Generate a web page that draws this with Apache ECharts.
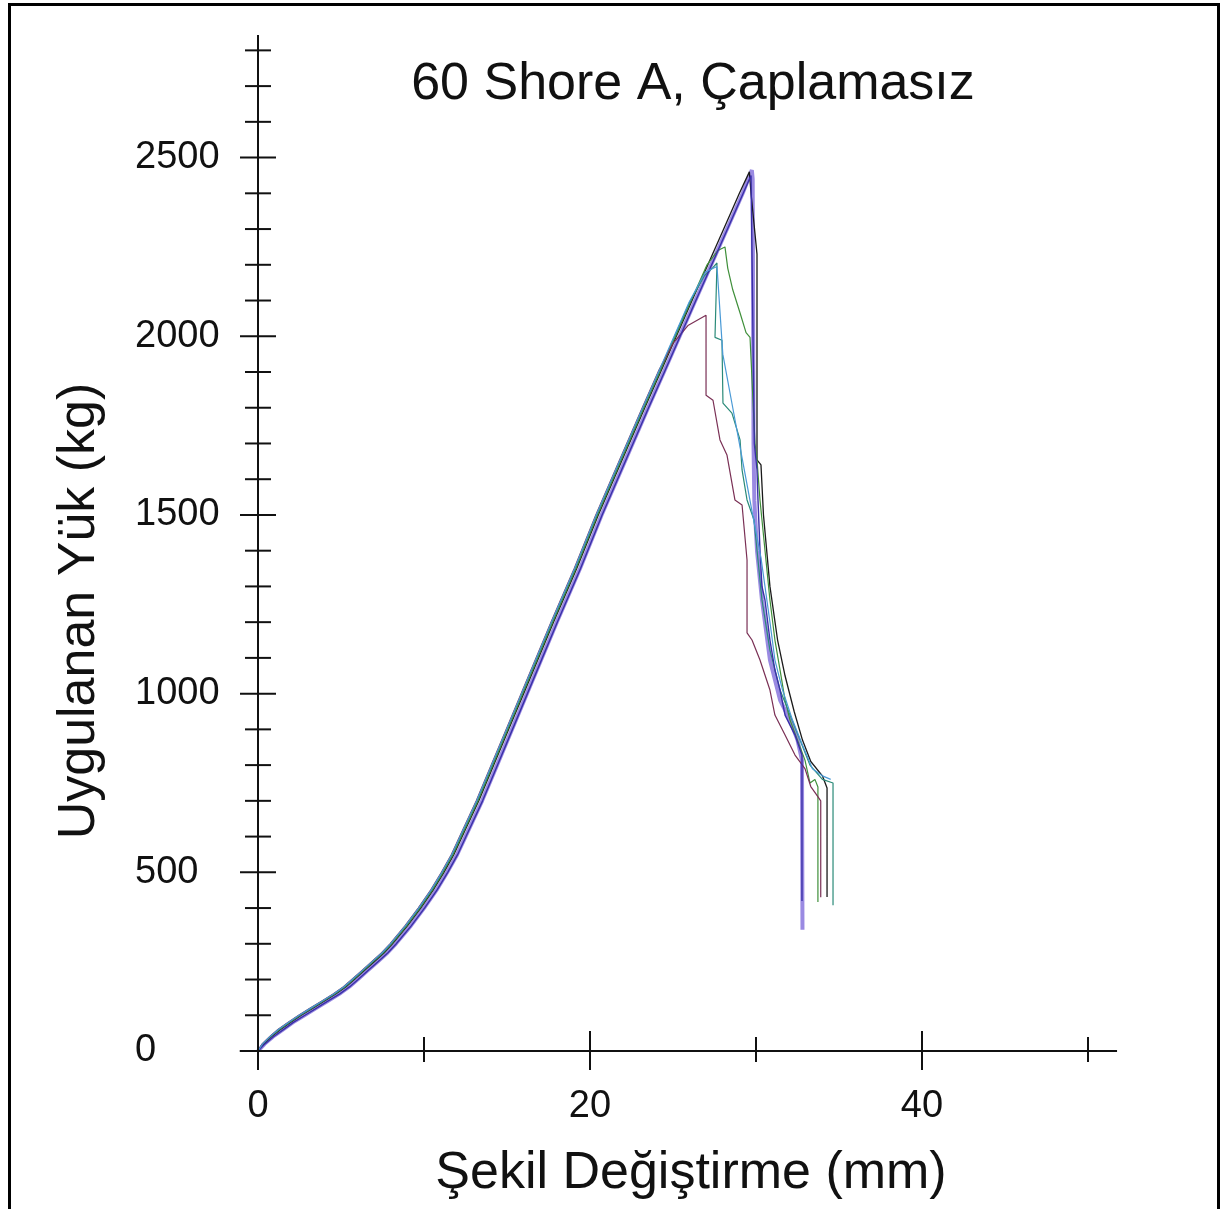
<!DOCTYPE html>
<html>
<head>
<meta charset="utf-8">
<script src="https://cdn.jsdelivr.net/npm/echarts@6/dist/echarts.min.js"></script>
<style>
  html, body { margin: 0; padding: 0; background: #fff; }
  #chart { width: 1231px; height: 1209px; }
</style>
</head>
<body>
<div id="chart"></div>
<script>
// Load–deformation curves, 60 Shore A, uncoated samples: [deformation mm, load kg]
const sample1 = [[0,0],[0.4,20],[0.9,40],[1.5,60],[2.1,80],[2.8,100],[3.5,120],[4.2,140],[4.9,160],[5.5,180],[6.0,200],[6.6,225],[7.2,250],[7.8,275],[8.3,300],[9.2,350],[10.0,400],[10.75,450],[11.4,500],[12.0,550],[12.5,600],[13.5,700],[14.4,800],[15.3,900],[16.2,1000],[17.1,1100],[18.0,1200],[19.4,1350],[20.7,1500],[22.1,1650],[23.5,1800],[24.5,1905],[25.4,2000],[26.3,2095],[27.3,2200],[28.3,2305],[29.2,2400],[29.75,2465],[29.8,2440],[29.85,1700],[29.9,1540],[30.06,1400],[30.36,1262],[30.84,1094],[31.45,982],[32.05,926],[32.5,870],[32.77,814],[32.8,339]];
const sample2 = [[0,0],[0.35,20],[0.8,40],[1.35,60],[1.95,80],[2.6,100],[3.3,120],[4.0,140],[4.7,160],[5.3,180],[5.8,200],[6.4,225],[7.0,250],[7.6,275],[8.1,300],[9.0,350],[9.8,400],[10.55,450],[11.2,500],[11.8,550],[12.3,600],[13.3,700],[14.2,800],[15.1,900],[16.0,1000],[16.9,1100],[17.8,1200],[19.2,1350],[20.5,1500],[21.9,1650],[23.3,1800],[24.3,1905],[25.2,2000],[26.1,2095],[27.1,2200],[28.1,2305],[29.0,2400],[29.6,2460],[29.7,2400],[30.06,2230],[30.06,1654],[30.3,1640],[30.45,1500],[30.84,1300],[31.3,1150],[31.75,1050],[32.3,950],[32.8,870],[33.3,810],[34.0,770],[34.28,736],[34.28,431]];
const sample3 = [[0,0],[0.3,20],[0.75,40],[1.3,60],[1.9,80],[2.55,100],[3.25,120],[3.95,140],[4.65,160],[5.25,180],[5.75,200],[6.35,225],[6.95,250],[7.55,275],[8.05,300],[8.95,350],[9.75,400],[10.5,450],[11.15,500],[11.75,550],[12.25,600],[13.25,700],[14.15,800],[15.05,900],[15.95,1000],[16.85,1100],[17.75,1200],[19.15,1350],[20.45,1500],[21.85,1650],[23.25,1800],[24.25,1905],[25.15,2000],[26.05,2095],[27.05,2200],[27.7,2240],[28.13,2250],[28.3,2190],[28.6,2130],[29.04,2065],[29.4,2010],[29.64,1997],[29.94,1700],[30.06,1654],[30.24,1542],[30.54,1402],[30.84,1262],[31.14,1150],[31.45,1066],[31.75,982],[32.05,926],[32.5,870],[32.95,814],[33.25,750],[33.55,760],[33.73,739],[33.73,417]];
const sample4 = [[0,0],[0.28,20],[0.72,40],[1.25,60],[1.85,80],[2.5,100],[3.2,120],[3.9,140],[4.6,160],[5.2,180],[5.7,200],[6.3,225],[6.9,250],[7.5,275],[8.0,300],[8.9,350],[9.7,400],[10.45,450],[11.1,500],[11.7,550],[12.2,600],[13.2,700],[14.1,800],[15.0,900],[15.9,1000],[16.8,1100],[17.7,1200],[19.1,1350],[20.4,1500],[21.8,1650],[23.2,1800],[24.2,1905],[25.1,2000],[26.0,2095],[26.9,2170],[27.4,2192],[27.65,2205],[27.53,1997],[27.95,1989],[28.01,1813],[28.55,1785],[29.04,1710],[29.16,1626],[29.46,1542],[29.88,1486],[30.06,1402],[30.36,1262],[30.84,1122],[31.45,1010],[32.05,940],[32.65,870],[33.25,800],[34.0,760],[34.64,750],[34.64,408]];
const sample5 = [[0,0],[0.25,20],[0.7,40],[1.2,60],[1.8,80],[2.45,100],[3.15,120],[3.85,140],[4.55,160],[5.15,180],[5.65,200],[6.25,225],[6.85,250],[7.45,275],[7.95,300],[8.85,350],[9.65,400],[10.4,450],[11.05,500],[11.65,550],[12.15,600],[13.15,700],[14.05,800],[14.95,900],[15.85,1000],[16.75,1100],[17.65,1200],[19.05,1350],[20.35,1500],[21.75,1650],[23.15,1800],[24.15,1905],[25.0,1980],[25.9,2030],[26.99,2059],[26.99,1835],[27.41,1821],[27.83,1710],[28.25,1668],[28.73,1542],[29.16,1528],[29.46,1374],[29.46,1170],[29.76,1150],[30.24,1094],[30.84,1010],[31.14,940],[31.75,884],[32.35,828],[32.95,790],[33.3,740],[33.6,720],[33.9,700],[33.9,430]];
const sample6 = [[0,0],[0.42,20],[0.93,40],[1.53,60],[2.13,80],[2.83,100],[3.53,120],[4.23,140],[4.93,160],[5.53,180],[6.03,200],[6.63,225],[7.23,250],[7.83,275],[8.33,300],[9.23,350],[10.03,400],[10.78,450],[11.43,500],[12.03,550],[12.53,600],[13.53,700],[14.43,800],[15.33,900],[16.23,1000],[17.13,1100],[18.03,1200],[19.43,1350],[20.73,1500],[22.13,1650],[23.53,1800],[24.53,1905],[25.43,2000],[26.33,2095],[27.33,2200],[28.33,2305],[29.23,2400],[29.7,2450],[29.9,1700],[30.06,1626],[30.12,1542],[30.24,1402],[30.36,1300],[30.54,1262],[30.84,1150],[31.14,1066],[31.45,1010],[31.75,940],[32.35,884],[32.77,828],[32.77,420]];
const sample7 = [[0,0],[0.27,20],[0.71,40],[1.22,60],[1.82,80],[2.47,100],[3.17,120],[3.87,140],[4.57,160],[5.17,180],[5.67,200],[6.27,225],[6.87,250],[7.47,275],[7.97,300],[8.87,350],[9.67,400],[10.42,450],[11.07,500],[11.67,550],[12.17,600],[13.17,700],[14.07,800],[14.97,900],[15.87,1000],[16.77,1100],[17.67,1200],[19.07,1350],[20.37,1500],[21.77,1650],[23.17,1800],[24.17,1905],[25.07,2000],[25.97,2095],[26.95,2180],[27.65,2195],[28.0,1950],[28.6,1800],[29.2,1650],[29.8,1500],[30.3,1380],[30.54,1300],[30.84,1200],[31.14,1094],[31.6,1010],[32.2,926],[32.8,856],[33.4,790],[34.0,770],[34.5,760]];

const seriesNames = ['Numune 1', 'Numune 2', 'Numune 3', 'Numune 4', 'Numune 5', 'Numune 6', 'Numune 7'];
const seriesData = [sample1, sample2, sample3, sample4, sample5, sample6, sample7];
const seriesColors = ['#9a8ae2', '#1a1a1a', '#3f8f3a', '#2a8a78', '#7a3055', '#3a30a8', '#4a9ad6'];
const seriesWidths = [4, 1.3, 1.2, 1.2, 1.2, 1.4, 1.2];

// Axis ranges and ticks
const xMin = 0, xMax = 50;
const yMin = 0, yMax = 2843;
const xLineExtent = [-1.1, 51.75];
const yLineExtent = [-47, 2843];
const xTicks = [0, 10, 20, 30, 40, 50];
const xMajorTicks = [0, 20, 40];
const yTicks = [0, 100, 200, 300, 400, 500, 600, 700, 800, 900, 1000, 1100, 1200, 1300, 1400, 1500, 1600, 1700, 1800, 1900, 2000, 2100, 2200, 2300, 2400, 2500, 2600, 2700, 2800];
const yMajorTicks = [0, 500, 1000, 1500, 2000, 2500];

const chartTitle = '60 Shore A, Çaplamasız';
const xName = 'Şekil Değiştirme (mm)';
const yName = 'Uygulanan Yük (kg)';

const FONT = '"Liberation Sans", Arial, sans-serif';

const chart = echarts.init(document.getElementById('chart'), null, { renderer: 'canvas' });

const curveSeries = seriesData.map((d, i) => ({
  name: seriesNames[i],
  type: 'line',
  data: d,
  showSymbol: false,
  symbol: 'none',
  smooth: false,
  clip: false,
  z: i === 0 ? 3 : 4,
  lineStyle: { color: seriesColors[i], width: seriesWidths[i] },
  emphasis: { disabled: true }
}));

// Axis lines, drawn through the data scales
const axisLineSeries = {
  type: 'custom',
  clip: false,
  silent: true,
  z: 5,
  data: [[xLineExtent[0], 0, xLineExtent[1], 0], [0, yLineExtent[0], 0, yLineExtent[1]]],
  renderItem: (params, api) => {
    const p1 = api.coord([api.value(0), api.value(1)]);
    const p2 = api.coord([api.value(2), api.value(3)]);
    return { type: 'line', shape: { x1: p1[0], y1: p1[1], x2: p2[0], y2: p2[1] }, style: { stroke: '#111', lineWidth: 2 } };
  }
};

// Crossing tick marks: longer at labelled values
const xTickSeries = {
  type: 'custom',
  clip: false,
  silent: true,
  z: 5,
  data: xTicks.map(v => [v, xMajorTicks.includes(v) ? 1 : 0]),
  renderItem: (params, api) => {
    const p = api.coord([api.value(0), 0]);
    const up = api.value(1) ? 20 : 14;
    const down = api.value(1) ? 19 : 11;
    return { type: 'line', shape: { x1: p[0], y1: p[1] - up, x2: p[0], y2: p[1] + down }, style: { stroke: '#111', lineWidth: 2 } };
  }
};
const yTickSeries = {
  type: 'custom',
  clip: false,
  silent: true,
  z: 5,
  data: yTicks.map(v => [v, yMajorTicks.includes(v) ? 1 : 0]),
  renderItem: (params, api) => {
    const p = api.coord([0, api.value(0)]);
    const half = api.value(1) ? 18 : 13;
    return { type: 'line', shape: { x1: p[0] - half, y1: p[1], x2: p[0] + half, y2: p[1] }, style: { stroke: '#111', lineWidth: 2 } };
  }
};

chart.setOption({
  animation: false,
  backgroundColor: '#ffffff',
  title: [{
    text: chartTitle,
    left: 688,
    top: 54,
    textAlign: 'center',
    textStyle: { fontFamily: FONT, fontSize: 52, fontWeight: 'normal', color: '#111' }
  }, {
    text: xName,
    left: 686,
    top: 1143,
    textAlign: 'center',
    textStyle: { fontFamily: FONT, fontSize: 52, fontWeight: 'normal', color: '#111' }
  }],
  grid: { left: 258, right: 143, top: 35, bottom: 158, containLabel: false },
  xAxis: {
    type: 'value',
    min: xMin, max: xMax, interval: 10,
    axisLine: { show: false },
    axisTick: { show: false },
    splitLine: { show: false },
    axisLabel: {
      margin: 37,
      fontFamily: FONT, fontSize: 38, color: '#111',
      formatter: v => (xMajorTicks.includes(v) ? String(v) : '')
    }
  },
  yAxis: {
    type: 'value',
    min: yMin, max: yMax, interval: 500,
    axisLine: { show: false },
    axisTick: { show: false },
    splitLine: { show: false },
    axisLabel: {
      margin: 123,
      align: 'left',
      fontFamily: FONT, fontSize: 38, color: '#111',
      showMaxLabel: false,
      formatter: v => (yMajorTicks.includes(v) ? String(v) : '')
    }
  },
  graphic: [{
    type: 'rect',
    left: 7, top: 2,
    shape: { width: 1209, height: 1230 },
    style: { fill: null, stroke: '#000', lineWidth: 3 },
    silent: true
  }, {
    type: 'text',
    x: 80, y: 611,
    rotation: Math.PI / 2,
    style: {
      text: yName,
      fontFamily: FONT, fontSize: 52, fill: '#111',
      textAlign: 'center', textVerticalAlign: 'middle'
    },
    silent: true
  }],
  series: [axisLineSeries, xTickSeries, yTickSeries].concat(curveSeries)
});
</script>
</body>
</html>
